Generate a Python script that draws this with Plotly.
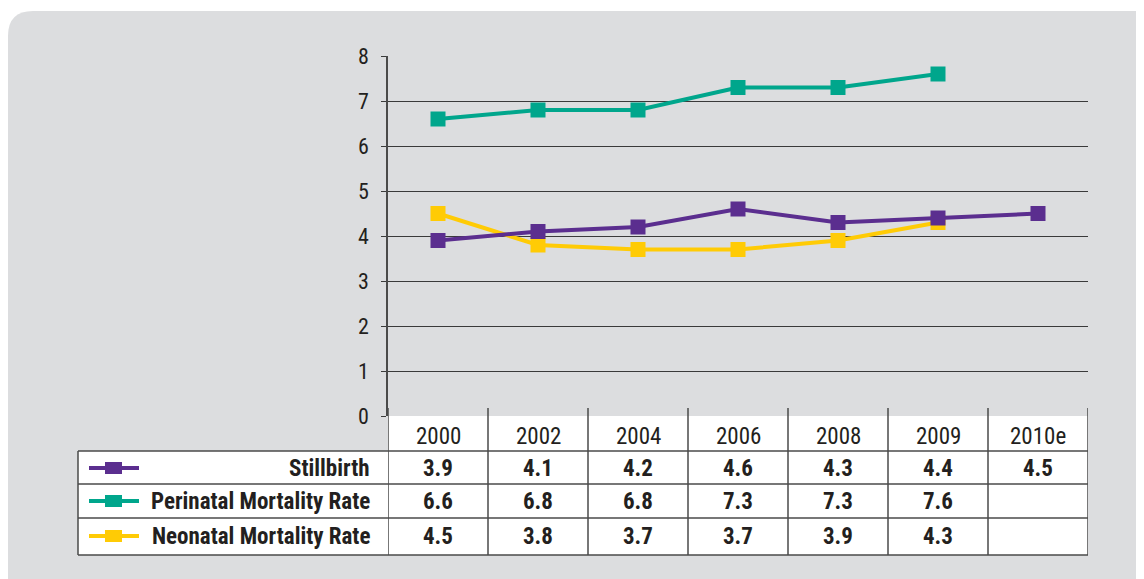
import plotly.graph_objects as go

W, H = 1144, 579

years = ["2000", "2002", "2004", "2006", "2008", "2009", "2010e"]
series_names = ["Stillbirth", "Perinatal Mortality Rate", "Neonatal Mortality Rate"]
stillbirth = [3.9, 4.1, 4.2, 4.6, 4.3, 4.4, 4.5]
perinatal = [6.6, 6.8, 6.8, 7.3, 7.3, 7.6, None]
neonatal = [4.5, 3.8, 3.7, 3.7, 3.9, 4.3, None]
y_ticks = [0, 1, 2, 3, 4, 5, 6, 7, 8]

series_values = [stillbirth, perinatal, neonatal]
colors = ["#5B2E8F", "#00A68C", "#FFCB05"]

FONT = "Liberation Sans Narrow, Arial Narrow, Roboto Condensed, DejaVu Sans Condensed, sans-serif"
TXT = "#231F20"
LINE = "#4a4a4a"
PANEL = "#DCDDDF"

# page body margin compensation (screen px -> figure px)
OFF = 8


def px(x):
    return (x - OFF) / W


def py(y):
    return 1 - (y - OFF) / H


# plot area (screen pixels)
X0, X1 = 388, 1088
Y_TOP, Y_BOT = 56, 416

fig = go.Figure()

for idx in [2, 1, 0]:
    fig.add_trace(go.Scatter(
        x=years, y=series_values[idx], name=series_names[idx],
        mode="lines+markers",
        line=dict(color=colors[idx], width=4),
        marker=dict(symbol="square", size=15, color=colors[idx]),
        connectgaps=False, showlegend=False, hoverinfo="skip",
    ))

shapes = []
r = 25
path = (f"M {px(8)},{py(620)} L {px(8)},{py(11 + r)} "
        f"Q {px(8)},{py(11)} {px(8 + r)},{py(11)} "
        f"L {px(1180)},{py(11)} L {px(1180)},{py(620)} Z")
shapes.append(dict(type="path", path=path, xref="paper", yref="paper",
                   fillcolor=PANEL, line=dict(width=0), layer="below"))

T_LEFT = 78
HEAD_TOP, HEAD_BOT = 416, 451
row_edges = [451, 484, 518, 555]
row_centers = [468, 501, 536]

shapes.append(dict(type="rect", xref="x", yref="paper", x0=-0.5, x1=len(years) - 0.5,
                   y0=py(HEAD_BOT), y1=py(HEAD_TOP), fillcolor="white",
                   line=dict(width=0), layer="below"))
shapes.append(dict(type="rect", xref="paper", yref="paper", x0=px(T_LEFT), x1=px(X1),
                   y0=py(row_edges[-1]), y1=py(row_edges[0]), fillcolor="white",
                   line=dict(width=0), layer="below"))

for y in row_edges:
    shapes.append(dict(type="line", xref="paper", yref="paper", x0=px(T_LEFT), x1=px(X1),
                       y0=py(y), y1=py(y), line=dict(color=LINE, width=1.5), layer="above"))
for i in range(len(years) + 1):
    shapes.append(dict(type="line", xref="x", yref="paper", x0=i - 0.5, x1=i - 0.5,
                       y0=py(row_edges[-1]), y1=py(408), line=dict(color=LINE, width=1.5),
                       layer="above"))
shapes.append(dict(type="line", xref="paper", yref="paper", x0=px(T_LEFT), x1=px(T_LEFT),
                   y0=py(row_edges[-1]), y1=py(row_edges[0]), line=dict(color=LINE, width=1.5),
                   layer="above"))

for k, c in enumerate(colors):
    yc = py(row_centers[k])
    shapes.append(dict(type="line", xref="paper", yref="paper", x0=px(89), x1=px(139),
                       y0=yc, y1=yc, line=dict(color=c, width=4), layer="above"))
    shapes.append(dict(type="rect", xref="paper", yref="paper", x0=px(105), x1=px(122),
                       y0=py(row_centers[k] + 6), y1=py(row_centers[k] - 6),
                       fillcolor=c, line=dict(width=0), layer="above"))

annotations = []
for i, yr in enumerate(years):
    annotations.append(dict(x=i, xref="x", y=py(436), yref="paper", text=yr,
                            showarrow=False, xanchor="center", yanchor="middle",
                            font=dict(family=FONT, size=23, color=TXT)))
for k, name in enumerate(series_names):
    annotations.append(dict(x=px(372), xref="paper", y=py(row_centers[k]), yref="paper",
                            text=f"<b>{name}</b>", showarrow=False, xanchor="right",
                            yanchor="middle", font=dict(family=FONT, size=23, color=TXT)))
    for i, v in enumerate(series_values[k]):
        if v is None:
            continue
        annotations.append(dict(x=i, xref="x", y=py(row_centers[k]), yref="paper",
                                text=f"<b>{v:.1f}</b>", showarrow=False, xanchor="center",
                                yanchor="middle", font=dict(family=FONT, size=23, color=TXT)))

fig.update_layout(
    width=W, height=H, autosize=False,
    margin=dict(l=0, r=0, t=0, b=0, pad=0),
    paper_bgcolor="white", plot_bgcolor="rgba(0,0,0,0)",
    shapes=shapes, annotations=annotations,
    xaxis=dict(domain=[px(X0), px(X1)], type="category", range=[-0.5, len(years) - 0.5],
               showgrid=False, zeroline=False, showline=False, showticklabels=False,
               ticks="", automargin=False),
    yaxis=dict(domain=[py(Y_BOT), py(Y_TOP)], range=[0, 8], tickvals=y_ticks,
               showgrid=True, gridcolor="#3a3a3a", gridwidth=1.2, zeroline=False,
               showline=True, linecolor=LINE, linewidth=1.5,
               ticks="outside", ticklen=5, tickcolor="#3a3a3a", tickwidth=1.2,
               tickfont=dict(family=FONT, size=22, color=TXT), ticklabelstandoff=8,
               automargin=False),
)

fig.write_html("out.html")
